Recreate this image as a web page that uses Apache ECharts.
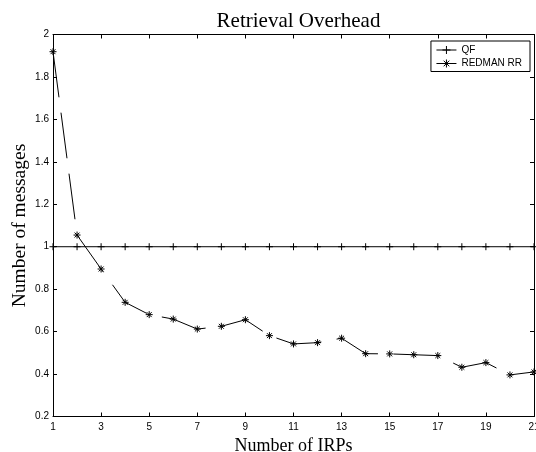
<!DOCTYPE html>
<html>
<head>
<meta charset="utf-8">
<script src="https://cdn.jsdelivr.net/npm/echarts@6/dist/echarts.min.js"></script>
<style>
  html, body { margin: 0; padding: 0; background: #fff; }
  #chart { width: 536px; height: 452px; }
</style>
</head>
<body>
<div id="chart"></div>
<script>
// Nombre d'IRPs (axe x)
const irps = [1, 2, 3, 4, 5, 6, 7, 8, 9, 10, 11, 12, 13, 14, 15, 16, 17, 18, 19, 20, 21];
// Série QF : constante à 1
const qf = [1, 1, 1, 1, 1, 1, 1, 1, 1, 1, 1, 1, 1, 1, 1, 1, 1, 1, 1, 1, 1];
// Série REDMAN RR
const redman = [1.919, 1.055, 0.895, 0.738, 0.680, 0.659, 0.612, 0.625, 0.656, 0.581,
                0.542, 0.548, 0.569, 0.496, 0.495, 0.491, 0.487, 0.432, 0.454, 0.396, 0.410];

const plusSymbol = 'path://M0,-1L0,1M-1,0L1,0';
const starSymbol = 'path://M0,-1L0,1M-1,0L1,0M-0.7,-0.7L0.7,0.7M-0.7,0.7L0.7,-0.7';

const chart = echarts.init(document.getElementById('chart'));

const tickLabel = { fontFamily: 'Liberation Sans', fontSize: 10, color: '#000' };
const blackLine = { lineStyle: { color: '#000', width: 1 } };

const option = {
    animation: false,
    backgroundColor: '#fff',
    title: {
        text: 'Retrieval Overhead',
        left: 293.5,
        textAlign: 'center',
        top: 6,
        textStyle: { fontFamily: 'Liberation Serif', fontSize: 21, fontWeight: 'normal', color: '#000' }
    },
    legend: {
        orient: 'vertical',
        right: 6,
        top: 41,
        padding: [4, 8, 3, 5],
        itemWidth: 20,
        itemHeight: 10,
        itemGap: 3.5,
        backgroundColor: '#fff',
        borderColor: '#000',
        borderWidth: 1,
        borderRadius: 0,
        lineStyle: { width: 1 },
        itemStyle: { borderWidth: 1 },
        textStyle: { fontFamily: 'Liberation Sans', fontSize: 10, color: '#000', lineHeight: 10 },
        data: ['QF', 'REDMAN RR']
    },
    grid: { left: 53, right: 2, top: 34.5, bottom: 35.5, outerBoundsMode: 'none', containLabel: false },
    xAxis: [{
        type: 'value',
        min: 1,
        max: 21,
        interval: 2,
        name: 'Number of IRPs',
        nameLocation: 'middle',
        nameGap: 21,
        nameMoveOverlap: false,
        nameTextStyle: { fontFamily: 'Liberation Serif', fontSize: 18, color: '#000' },
        axisLine: blackLine,
        axisTick: { inside: true, length: 4, lineStyle: { color: '#000' } },
        axisLabel: Object.assign({ margin: 6 }, tickLabel),
        splitLine: { show: false }
    }, {
        type: 'value',
        position: 'top',
        min: 1,
        max: 21,
        interval: 2,
        axisLine: blackLine,
        axisTick: { inside: true, length: 4, lineStyle: { color: '#000' } },
        axisLabel: { show: false },
        splitLine: { show: false }
    }],
    yAxis: [{
        type: 'value',
        min: 0.2,
        max: 2,
        interval: 0.2,
        name: 'Number of messages',
        nameLocation: 'middle',
        nameGap: 23,
        nameMoveOverlap: false,
        nameTextStyle: { fontFamily: 'Liberation Serif', fontSize: 19.5, color: '#000' },
        axisLine: blackLine,
        axisTick: { inside: true, length: 4, lineStyle: { color: '#000' } },
        axisLabel: Object.assign({ margin: 4 }, tickLabel),
        splitLine: { show: false }
    }, {
        type: 'value',
        position: 'right',
        min: 0.2,
        max: 2,
        interval: 0.2,
        axisLine: blackLine,
        axisTick: { inside: true, length: 4, lineStyle: { color: '#000' } },
        axisLabel: { show: false },
        splitLine: { show: false }
    }],
    series: [{
        name: 'QF',
        type: 'line',
        data: irps.map((x, i) => [x, qf[i]]),
        symbol: plusSymbol,
        symbolSize: 7,
        showAllSymbol: true,
        lineStyle: { color: '#000', width: 1 },
        itemStyle: { color: '#000', borderColor: '#000', borderWidth: 1 },
        emphasis: { disabled: true }
    }, {
        name: 'REDMAN RR',
        type: 'line',
        data: irps.map((x, i) => [x, redman[i]]),
        symbol: starSymbol,
        symbolSize: 7,
        showAllSymbol: true,
        lineStyle: { color: '#000', width: 1, type: [46, 15.5] },
        itemStyle: { color: '#000', borderColor: '#000', borderWidth: 1 },
        emphasis: { disabled: true }
    }]
};

chart.setOption(option);
</script>
</body>
</html>
